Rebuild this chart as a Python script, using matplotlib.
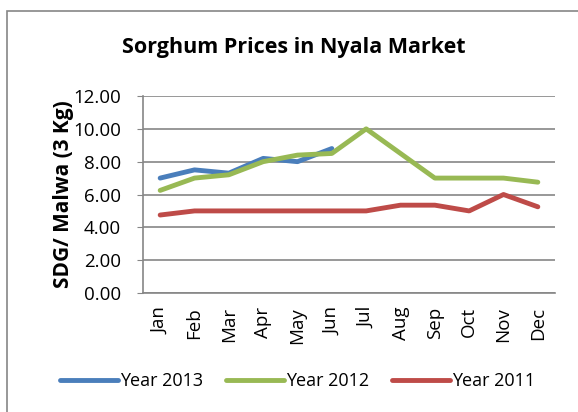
"""Sorghum prices in Nyala market, monthly line chart."""

import matplotlib.pyplot as plt
from matplotlib.patches import Rectangle

plt.rcParams["font.family"] = ["Open Sans", "DejaVu Sans"]

months = ["Jan", "Feb", "Mar", "Apr", "May", "Jun",
          "Jul", "Aug", "Sep", "Oct", "Nov", "Dec"]
year_2013 = [7.0, 7.5, 7.3, 8.2, 8.0, 8.8]
year_2012 = [6.25, 7.0, 7.2, 8.0, 8.4, 8.5, 10.0, 8.5, 7.0, 7.0, 7.0, 6.75]
year_2011 = [4.75, 5.0, 5.0, 5.0, 5.0, 5.0, 5.0, 5.35, 5.35, 5.0, 6.0, 5.25]
y_ticks = [0, 2, 4, 6, 8, 10, 12]


def main() -> None:
	fig = plt.figure(figsize=(5.78, 4.12), dpi=100)
	fig.patches.append(Rectangle(
		(7 / 578, -0.1), 1.1, 1 - 11 / 412 + 0.1, transform=fig.transFigure,
		fill=False, edgecolor="#868686", linewidth=1.2, zorder=0))

	ax = fig.add_axes([143 / 578, (412 - 293) / 412, 412 / 578, 197 / 412])
	x = list(range(len(months)))
	ax.plot(x[:len(year_2013)], year_2013, color="#4a7ebb", lw=3.5,
		solid_capstyle="round", label="Year 2013", zorder=3)
	ax.plot(x, year_2012, color="#98b954", lw=3.5,
		solid_capstyle="round", label="Year 2012", zorder=4)
	ax.plot(x, year_2011, color="#be4b48", lw=3.5,
		solid_capstyle="round", label="Year 2011", zorder=3)

	ax.set_xlim(-0.5, len(months) - 0.5)
	ax.set_ylim(0, 12)
	ax.set_yticks(y_ticks)
	ax.set_yticklabels([f"{v:.2f}" for v in y_ticks], fontsize=13.5)
	ax.set_xticks(x)
	ax.set_xticklabels(months, rotation=90, fontsize=13.5)
	ax.tick_params(axis="x", length=0, pad=10)
	ax.tick_params(axis="y", length=4, color="#868686", pad=12)
	ax.grid(axis="y", color="#868686", lw=1.2)
	ax.set_axisbelow(True)
	for side in ["top", "right"]:
		ax.spines[side].set_visible(False)
	for side in ["left", "bottom"]:
		ax.spines[side].set_color("#868686")
		ax.spines[side].set_linewidth(1.2)

	ax.set_ylabel("SDG/ Malwa (3 Kg)", fontsize=15, fontweight="bold")
	ax.yaxis.set_label_coords(-(143 - 74) / 412, 0.5)
	fig.text(294 / 578, 1 - 48 / 412, "Sorghum Prices in Nyala Market",
		ha="center", va="center", fontsize=15.5, fontweight="bold")

	fig.legend(loc="center", bbox_to_anchor=(0.515, 1 - 381 / 412), ncol=3,
		frameon=False, fontsize=13, handlelength=3.2, handletextpad=0.1,
		columnspacing=1.3)

	fig.savefig("out.png", dpi=100)


if __name__ == "__main__":
	main()
